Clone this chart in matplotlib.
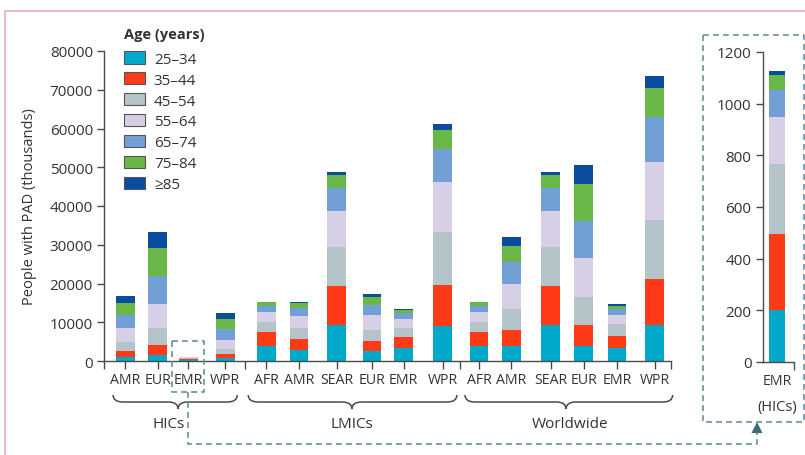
import matplotlib
matplotlib.use("Agg")
import matplotlib.pyplot as plt
from matplotlib.path import Path
from matplotlib.patches import PathPatch, Rectangle, Polygon
from matplotlib.lines import Line2D
from matplotlib.transforms import blended_transform_factory
import numpy as np

plt.rcParams['font.family'] = ['Open Sans', 'DejaVu Sans']

# ---------------- data (thousands of people) ----------------
groups = ["HICs", "LMICs", "Worldwide"]
hic_regions = ["AMR", "EUR", "EMR", "WPR"]
lmic_regions = ["AFR", "AMR", "SEAR", "EUR", "EMR", "WPR"]
ww_regions = ["AFR", "AMR", "SEAR", "EUR", "EMR", "WPR"]
categories = hic_regions + lmic_regions + ww_regions

age_groups = ["25–34", "35–44", "45–54", "55–64", "65–74", "75–84", "≥85"]

age_25_34 = [1100, 1630, 201, 770, 3960, 2750, 9370, 2500, 3270, 9030, 3950, 3790, 9370, 3950, 3430, 9370]
age_35_44 = [1550, 2500, 294, 1040, 3520, 2840, 9980, 2580, 2840, 10580, 3450, 4300, 9980, 5340, 3100, 11790]
age_45_54 = [2300, 4470, 270, 1290, 2580, 3010, 10070, 2920, 2410, 13680, 2740, 5330, 10070, 7310, 2940, 15230]
age_55_64 = [3550, 6030, 184, 2320, 2580, 2930, 9210, 3950, 2400, 12820, 2580, 6450, 9210, 9900, 2400, 15040]
age_65_74 = [3500, 7230, 104, 2760, 1640, 2070, 5930, 2500, 1540, 8520, 1560, 5600, 5930, 9630, 1550, 11460]
age_75_84 = [2900, 7300, 58, 2740, 950, 1290, 3350, 2150, 700, 5070, 870, 4130, 3350, 9630, 860, 7640]
age_85_up = [1900, 4210, 17, 1540, 80, 420, 780, 690, 340, 1590, 80, 2400, 780, 4820, 350, 2940]

series = [age_25_34, age_35_44, age_45_54, age_55_64, age_65_74, age_75_84, age_85_up]
inset_index = 2  # EMR (HICs)

main_yticks = [0, 10000, 20000, 30000, 40000, 50000, 60000, 70000, 80000]
inset_yticks = [0, 200, 400, 600, 800, 1000, 1200]

# ---------------- layout / style ----------------
colors = ['#00a9c9', '#ff3b17', '#b5c4c8', '#d6cfe6', '#719fd6', '#69b847', '#0a4d9e']
xpos = [0, 1, 1.94, 3.08, 4.34, 5.35, 6.51, 7.6, 8.57, 9.78, 10.89, 11.89, 13.1, 14.12, 15.14, 16.3]
separators = [-0.65, 3.69, 10.31, 16.8]
bar_w = 0.58
txt = '#333333'
axcol = '#4a4a4a'
dashcol = '#6a8f99'

W, H = 805, 456
fig = plt.figure(figsize=(W / 100, H / 100), dpi=100)


def fx(px):
    return px / W


def fy(py):
    return 1 - py / H


# page frame
fig.patches.append(Rectangle((fx(5), fy(H + 10)), fx(W + 10), fy(12) - fy(H + 10),
                             transform=fig.transFigure, fill=False,
                             edgecolor='#e2b3b8', lw=1.2))

ax = fig.add_axes([fx(104), fy(362), (671 - 104) / W, 310 / H])
bottom = np.zeros(len(categories))
for vals, c in zip(series, colors):
    ax.bar(xpos, vals, width=bar_w, bottom=bottom, color=c, linewidth=0)
    bottom += np.array(vals)

ax.set_xlim(separators[0], separators[-1])
ax.set_ylim(0, 80000)
ax.set_yticks(main_yticks)
ax.set_yticklabels([str(v) for v in main_yticks], fontsize=11, color=txt)
ax.set_xticks(xpos)
ax.set_xticklabels(categories, fontsize=10.2, color=txt)
ax.set_xticks(separators, minor=True)
for s in ['top', 'right']:
    ax.spines[s].set_visible(False)
for s in ['left', 'bottom']:
    ax.spines[s].set_color(axcol)
    ax.spines[s].set_linewidth(1.0)
ax.tick_params(axis='both', which='both', direction='out', color=axcol, width=1.0)
ax.tick_params(axis='y', length=5, pad=3)
ax.tick_params(axis='x', which='both', length=6, pad=2)
ax.set_ylabel("People with PAD (thousands)", fontsize=10.5, color=txt, labelpad=9)

# legend
handles = [Rectangle((0, 0), 1, 1, facecolor=c, edgecolor='#555555', lw=0.8) for c in colors]
leg = fig.legend(handles, age_groups, loc='upper left', bbox_to_anchor=(fx(124), fy(28)),
                 frameon=False, title='Age (years)', fontsize=11,
                 title_fontproperties={'weight': 'bold', 'size': 10.5},
                 alignment='left', handlelength=1.4, handleheight=0.85,
                 handletextpad=0.55, labelspacing=0.36, borderpad=0, borderaxespad=0)
for t in leg.get_texts():
    t.set_color(txt)
leg.get_title().set_color(txt)
try:
    leg._legend_box.sep = 7.5
except Exception:
    pass

# group braces
bt = blended_transform_factory(ax.transData, fig.transFigure)
r = 0.3


def brace(x0, x1, xm, ytop=396, ymid=403, ytip=410):
    verts = [(x0, fy(ytop)), (x0, fy(ymid)), (x0 + r, fy(ymid)),
             (xm - r, fy(ymid)), (xm, fy(ymid)), (xm, fy(ytip)),
             (xm, fy(ymid)), (xm + r, fy(ymid)),
             (x1 - r, fy(ymid)), (x1, fy(ymid)), (x1, fy(ytop))]
    codes = [Path.MOVETO, Path.CURVE3, Path.CURVE3,
             Path.LINETO, Path.CURVE3, Path.CURVE3,
             Path.CURVE3, Path.CURVE3,
             Path.LINETO, Path.CURVE3, Path.CURVE3]
    fig.patches.append(PathPatch(Path(verts, codes), transform=bt, fill=False,
                                 edgecolor=axcol, lw=1.1))


group_spans = [(xpos[0] - 0.37, xpos[3] + 0.37, 1.63, 1.35),
               (xpos[4] - 0.55, xpos[9] + 0.43, 6.98, 6.98),
               (xpos[10] - 0.43, xpos[15] + 0.55, 13.57, 13.7)]
for name, (a, b, tip, lab) in zip(groups, group_spans):
    brace(a, b, tip)
    fig.text(lab, fy(425), name, transform=bt, ha='center', va='center',
             fontsize=11, color=txt)

# inset
ax2 = fig.add_axes([fx(762.5), fy(363), (794 - 762.5) / W, 310 / H])
b2 = 0
for vals, c in zip(series, colors):
    ax2.bar([0], [vals[inset_index]], width=1, bottom=b2, color=c, linewidth=0)
    b2 += vals[inset_index]
ax2.set_xlim(-0.906, 1.06)
ax2.set_ylim(0, 1200)
ax2.set_yticks(inset_yticks)
ax2.set_yticklabels([str(v) for v in inset_yticks], fontsize=11, color=txt)
ax2.set_xticks([0])
ax2.set_xticklabels([hic_regions[inset_index]], fontsize=10.2, color=txt)
ax2.set_xticks([1.06], minor=True)
for s in ['top', 'right']:
    ax2.spines[s].set_visible(False)
for s in ['left', 'bottom']:
    ax2.spines[s].set_color(axcol)
    ax2.spines[s].set_linewidth(1.0)
ax2.tick_params(axis='both', which='both', direction='out', color=axcol, width=1.0)
ax2.tick_params(axis='y', length=5, pad=3)
ax2.tick_params(axis='x', which='both', length=6, pad=2)
ax2.tick_params(axis='x', which='major', length=0, pad=8)
fig.text(fx(777), fy(407), "(" + groups[0] + ")", ha='center', va='center',
         fontsize=10.5, color=txt)

# dashed highlight box and connector
dash = dict(color=dashcol, lw=1.2, linestyle=(0, (3.5, 2.5)))
ex = xpos[inset_index]
fig.add_artist(Line2D([ex - 0.5, ex + 0.5, ex + 0.5, ex - 0.5, ex - 0.5],
                      [fy(342), fy(342), fy(393), fy(393), fy(342)], transform=bt, **dash))
px_emr = ax.transData.transform((ex, 0))[0] / fig.dpi * 100
fig.add_artist(Line2D([fx(px_emr), fx(px_emr), fx(757), fx(757)],
                      [fy(393), fy(445), fy(445), fy(434)],
                      transform=fig.transFigure, **dash))
fig.add_artist(Line2D([fx(703), fx(804), fx(804), fx(703), fx(703)],
                      [fy(36), fy(36), fy(423), fy(423), fy(36)],
                      transform=fig.transFigure, **dash))
fig.patches.append(Polygon([(fx(757), fy(423)), (fx(751.5), fy(434)), (fx(762.5), fy(434))],
                           closed=True, transform=fig.transFigure,
                           facecolor='#3f6a78', edgecolor='none'))

fig.savefig("out.png", dpi=100)
